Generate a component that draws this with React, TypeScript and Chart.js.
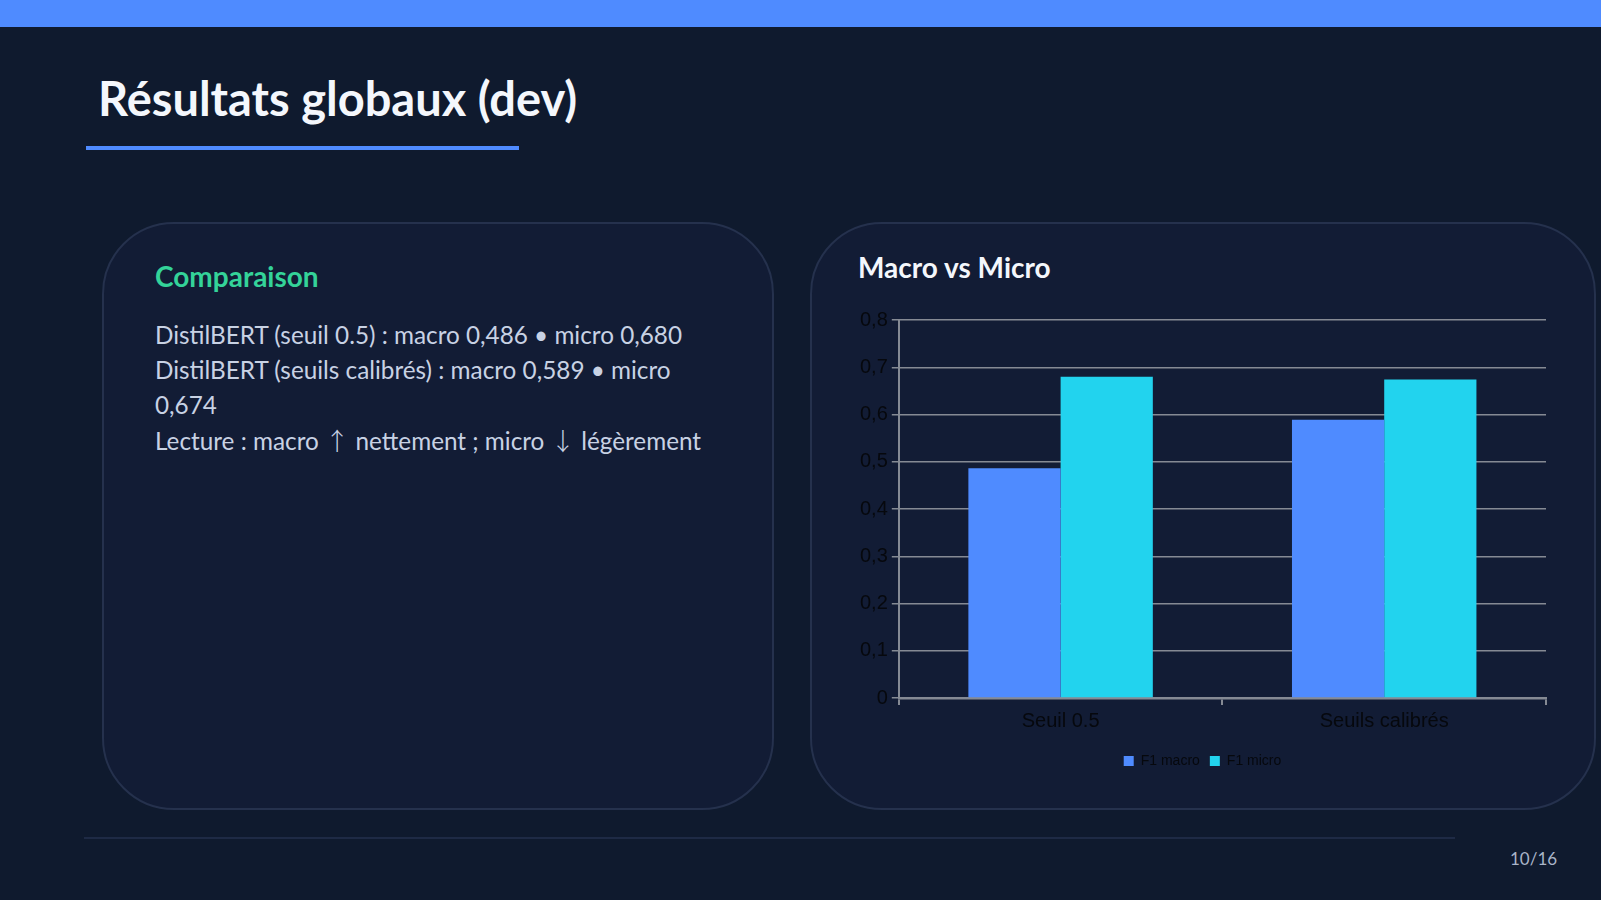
import React, { useEffect, useRef } from "react";
import { Chart, registerables } from "chart.js";

Chart.register(...registerables);

const categories: string[] = ["Seuil 0.5", "Seuils calibrés"];
const seriesNames: string[] = ["F1 macro", "F1 micro"];
const f1Macro: number[] = [0.486, 0.589];
const f1Micro: number[] = [0.68, 0.674];
const seriesColors: string[] = ["#4f8bff", "#22d3ee"];
const yMin = 0;
const yMax = 0.8;
const yStep = 0.1;

const bodyLines: string[] = [
  "DistilBERT (seuil 0.5) : macro 0,486 • micro 0,680",
  "DistilBERT (seuils calibrés) : macro 0,589 • micro 0,674",
  "Lecture : macro ↑ nettement ; micro ↓ légèrement",
];

const BG = "#0f1a2e";
const CARD = "#121c35";
const CARD_BORDER = "#25314d";
const GRID = "#858a94";
const DARK_TEXT = "#06080d";

function BarChart() {
  const ref = useRef<HTMLCanvasElement | null>(null);
  useEffect(() => {
    if (!ref.current) return;
    const chart = new Chart(ref.current, {
      type: "bar",
      data: {
        labels: categories,
        datasets: [
          {
            label: seriesNames[0],
            data: f1Macro,
            backgroundColor: seriesColors[0],
            borderWidth: 0,
            categoryPercentage: 0.57,
            barPercentage: 1.0,
          },
          {
            label: seriesNames[1],
            data: f1Micro,
            backgroundColor: seriesColors[1],
            borderWidth: 0,
            categoryPercentage: 0.57,
            barPercentage: 1.0,
          },
        ],
      },
      options: {
        animation: false,
        responsive: false,
        maintainAspectRatio: false,
        layout: { padding: { top: 20, left: 9, right: 9, bottom: 10 } },
        plugins: {
          tooltip: { enabled: false },
          legend: {
            position: "bottom",
            labels: {
              boxWidth: 10,
              boxHeight: 10,
              padding: 10,
              color: DARK_TEXT,
              font: { family: "'Liberation Sans', Arial, sans-serif", size: 14 },
            },
          },
        },
        scales: {
          x: {
            offset: true,
            grid: {
              display: true,
              drawOnChartArea: false,
              drawTicks: true,
              tickLength: 7,
              offset: true,
              color: GRID,
              lineWidth: 2,
            },
            border: { display: true, color: GRID, width: 2.5 },
            ticks: {
              color: DARK_TEXT,
              padding: 4,
              font: { family: "'Liberation Sans', Arial, sans-serif", size: 20 },
            },
            afterFit: (scale: any) => {
              scale.height += 7;
            },
          },
          y: {
            min: yMin,
            max: yMax,
            ticks: {
              stepSize: yStep,
              color: DARK_TEXT,
              padding: 4,
              font: { family: "'Liberation Sans', Arial, sans-serif", size: 20 },
              callback: (v: any) => {
                const n = Number(v);
                if (Math.abs(n) < 1e-9) return "0";
                return n.toFixed(1).replace(".", ",");
              },
            },
            afterFit: (scale: any) => {
              scale.width -= 3;
            },
            grid: {
              color: GRID,
              lineWidth: 1.5,
              drawTicks: true,
              tickLength: 7,
            },
            border: { display: true, color: GRID, width: 2 },
          },
        },
      },
    } as any);
    return () => chart.destroy();
  }, []);
  return (
    <canvas
      ref={ref}
      width={705}
      height={488}
      style={{ position: "absolute", left: 850, top: 300, width: 705, height: 488 }}
    />
  );
}

function renderLine(line: string) {
  const parts = line.split(/([↑↓])/);
  return parts.map((p, i) =>
    p === "↑" || p === "↓" ? (
      <span key={i} style={{ fontFamily: "'Noto Sans CJK SC', 'DejaVu Sans', sans-serif", fontWeight: 300 }}>
        {p}
      </span>
    ) : (
      <React.Fragment key={i}>{p}</React.Fragment>
    )
  );
}

export default function App() {
  useEffect(() => {
    document.body.style.margin = "0";
    document.body.style.background = BG;
  }, []);
  const lato = "Lato, 'Noto Sans', sans-serif";
  return (
    <div
      style={{
        position: "relative",
        width: 1601,
        height: 900,
        background: BG,
        overflow: "hidden",
        fontFamily: lato,
      }}
    >
      <div style={{ position: "absolute", left: 0, top: 0, width: 1601, height: 27, background: "#4f8bff" }} />
      <div
        style={{
          position: "absolute",
          left: 98,
          top: 70,
          fontSize: 47,
          lineHeight: 1.2,
          fontWeight: 700,
          color: "#f4f7fc",
          whiteSpace: "nowrap",
        }}
      >
        Résultats globaux (dev)
      </div>
      <div style={{ position: "absolute", left: 86, top: 146, width: 433, height: 4, background: "#4f8bff" }} />

      <div
        style={{
          position: "absolute",
          left: 102,
          top: 222,
          width: 672,
          height: 588,
          boxSizing: "border-box",
          background: CARD,
          border: `2px solid ${CARD_BORDER}`,
          borderRadius: 72,
        }}
      />
      <div
        style={{
          position: "absolute",
          left: 155,
          top: 260,
          fontSize: 28,
          lineHeight: 1.2,
          fontWeight: 700,
          color: "#34d399",
          whiteSpace: "nowrap",
        }}
      >
        Comparaison
      </div>
      <div
        style={{
          position: "absolute",
          left: 155,
          top: 317,
          width: 565,
          fontSize: 24.3,
          lineHeight: "35px",
          color: "#c8d2e4",
        }}
      >
        {bodyLines.map((l, i) => (
          <div key={i}>{renderLine(l)}</div>
        ))}
      </div>

      <div
        style={{
          position: "absolute",
          left: 810,
          top: 222,
          width: 786,
          height: 588,
          boxSizing: "border-box",
          background: CARD,
          border: `2px solid ${CARD_BORDER}`,
          borderRadius: 72,
        }}
      />
      <div
        style={{
          position: "absolute",
          left: 858,
          top: 251,
          fontSize: 28,
          lineHeight: 1.2,
          fontWeight: 700,
          color: "#f4f7fc",
          whiteSpace: "nowrap",
        }}
      >
        Macro vs Micro
      </div>
      <BarChart />

      <div style={{ position: "absolute", left: 84, top: 837, width: 1371, height: 2, background: "#1e2a45" }} />
      <div
        style={{
          position: "absolute",
          left: 1510,
          top: 849,
          fontSize: 17,
          lineHeight: 1.2,
          color: "#a9b4c8",
          whiteSpace: "nowrap",
        }}
      >
        10/16
      </div>
    </div>
  );
}
